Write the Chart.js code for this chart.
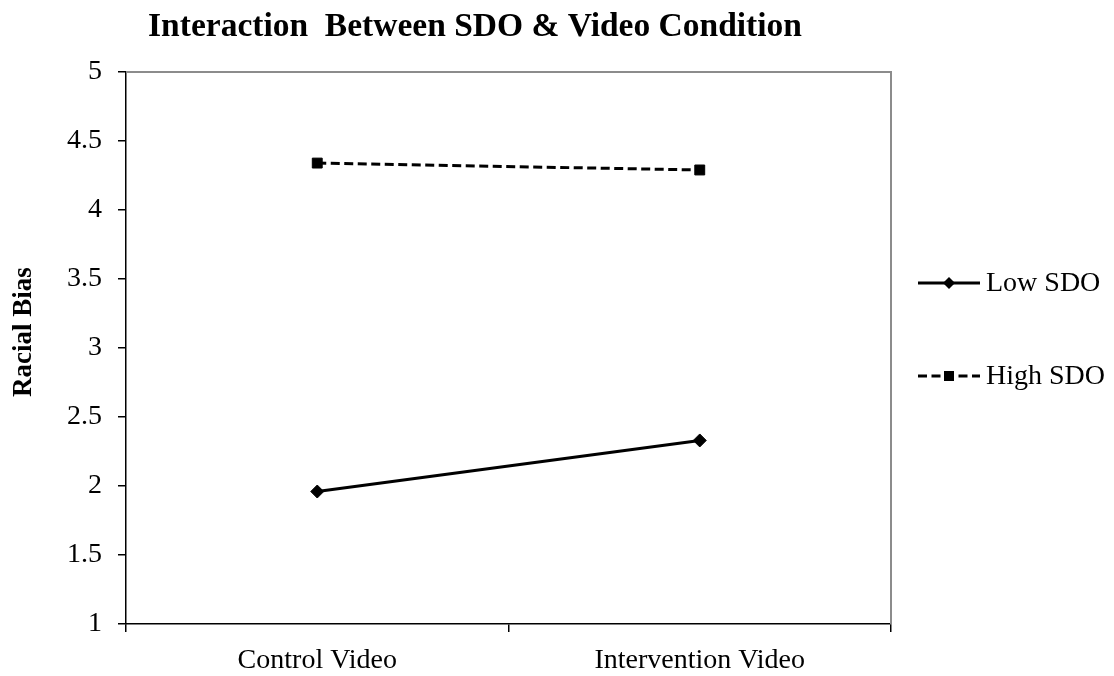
<!DOCTYPE html>
<html>
<head>
<meta charset="utf-8">
<script src="https://cdn.jsdelivr.net/npm/chart.js@4"></script>
<style>
  html, body { margin: 0; padding: 0; background: #fff; }
  #wrap { width: 1114px; height: 676px; position: relative; }
</style>
</head>
<body>
<div id="wrap"><canvas id="c" width="1114" height="676"></canvas></div>
<script>
const chartTitle = 'Interaction  Between SDO & Video Condition';
const yAxisTitle = 'Racial Bias';
const categories = ['Control Video', 'Intervention Video'];
const seriesNames = ['Low SDO', 'High SDO'];
const lowSDO = [1.96, 2.33];
const highSDO = [4.34, 4.29];
const yTicks = [1, 1.5, 2, 2.5, 3, 3.5, 4, 4.5, 5];

const FONT = '"Liberation Serif", "Times New Roman", serif';

const framePlugin = {
  id: 'frame',
  afterDraw(chart) {
    const ctx = chart.ctx;
    const a = chart.chartArea;
    ctx.save();
    // top and right frame lines
    ctx.strokeStyle = '#8c8c8c';
    ctx.lineWidth = 2;
    ctx.beginPath();
    ctx.moveTo(a.left, a.top);
    ctx.lineTo(a.right, a.top);
    ctx.lineTo(a.right, a.bottom);
    ctx.stroke();
    // title
    ctx.fillStyle = '#000';
    ctx.font = 'bold 33.5px ' + FONT;
    ctx.textAlign = 'center';
    ctx.textBaseline = 'alphabetic';
    ctx.fillText(chartTitle, 475, 36);
    // y axis title
    ctx.save();
    ctx.translate(24, 332);
    ctx.rotate(-Math.PI / 2);
    ctx.font = 'bold 27px ' + FONT;
    ctx.textAlign = 'center';
    ctx.textBaseline = 'middle';
    ctx.fillText(yAxisTitle, 0, 0);
    ctx.restore();
    // legend
    const rows = [283, 376];
    chart.data.datasets.forEach((ds, i) => {
      const y = rows[i];
      ctx.strokeStyle = ds.borderColor;
      ctx.lineWidth = ds.borderWidth;
      ctx.setLineDash(ds.borderDash || []);
      ctx.beginPath();
      ctx.moveTo(918, y);
      ctx.lineTo(980, y);
      ctx.stroke();
      ctx.setLineDash([]);
      ctx.fillStyle = '#000';
      if (ds.pointStyle === 'rect') {
        ctx.fillRect(944, y - 5, 10, 10);
      } else {
        ctx.beginPath();
        ctx.moveTo(949, y - 6);
        ctx.lineTo(955, y);
        ctx.lineTo(949, y + 6);
        ctx.lineTo(943, y);
        ctx.closePath();
        ctx.fill();
      }
      ctx.font = '28px ' + FONT;
      ctx.textAlign = 'left';
      ctx.textBaseline = 'middle';
      ctx.fillText(ds.label, 986, y + 1);
    });
    ctx.restore();
  }
};

new Chart(document.getElementById('c'), {
  type: 'line',
  data: {
    labels: categories,
    datasets: [
      {
        label: seriesNames[0],
        data: lowSDO,
        borderColor: '#000',
        backgroundColor: '#000',
        borderWidth: 3,
        pointStyle: 'rectRot',
        pointRadius: 6.5,
        pointBorderWidth: 1,
        pointBackgroundColor: '#000',
        pointBorderColor: '#000',
        tension: 0
      },
      {
        label: seriesNames[1],
        data: highSDO,
        borderColor: '#000',
        backgroundColor: '#000',
        borderWidth: 3,
        borderDash: [9, 4.5],
        pointStyle: 'rect',
        pointRadius: 7,
        pointBorderWidth: 1,
        pointBackgroundColor: '#000',
        pointBorderColor: '#000',
        tension: 0
      }
    ]
  },
  options: {
    responsive: false,
    animation: false,
    layout: { padding: { left: 0, top: 72, right: 223, bottom: 0 } },
    plugins: {
      legend: { display: false },
      title: { display: false },
      tooltip: { enabled: false }
    },
    scales: {
      x: {
        offset: true,
        grid: { offset: true, drawOnChartArea: false, tickLength: 8, color: '#000', lineWidth: 1.5 },
        border: { color: '#000', width: 1.5 },
        ticks: { color: '#000', font: { family: FONT, size: 28 }, padding: 12, maxRotation: 0 },
        afterFit(scale) { scale.height = 52; }
      },
      y: {
        min: 1,
        max: 5,
        afterBuildTicks(scale) { scale.ticks = yTicks.map(v => ({ value: v })); },
        grid: { drawOnChartArea: false, tickLength: 8, color: '#000', lineWidth: 1.5 },
        border: { color: '#000', width: 1.5 },
        ticks: {
          color: '#000',
          font: { family: FONT, size: 28 },
          padding: 16,
          callback: (v) => String(v)
        },
        title: { display: false },
        afterFit(scale) { scale.width = 126; }
      }
    }
  },
  plugins: [framePlugin]
});
</script>
</body>
</html>
